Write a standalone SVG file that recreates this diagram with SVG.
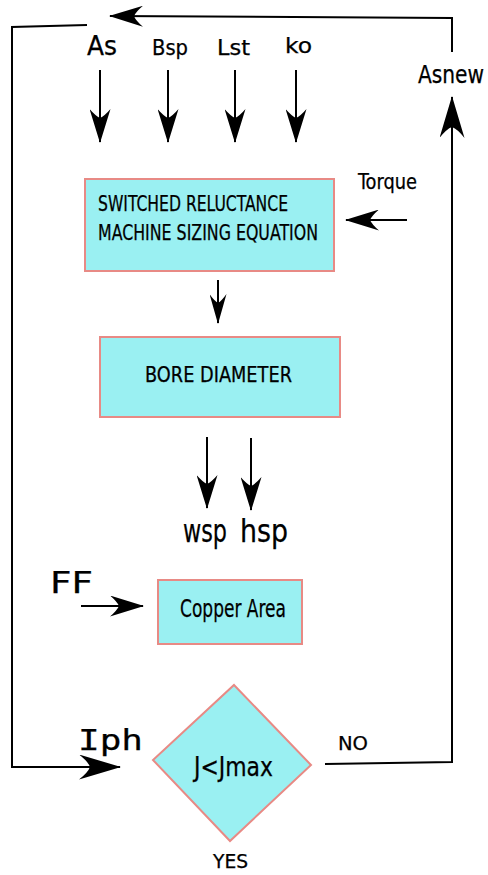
<svg xmlns="http://www.w3.org/2000/svg" width="488" height="875" viewBox="0 0 488 875">
<style>
.box{fill:#9af0f2;stroke:#e88a85;stroke-width:2}
.c{fill:none;stroke:#000;stroke-width:2}
.t{font-family:"DejaVu Sans Condensed","DejaVu Sans",sans-serif;fill:#000;stroke:#000;stroke-width:0.25}
.w{font-family:"DejaVu Sans",sans-serif;fill:#000;stroke:#000;stroke-width:0.25}
.m{font-family:"DejaVu Sans Mono",monospace;fill:#000;stroke:#000;stroke-width:0.25}
</style>
<defs>
<marker id="am" viewBox="0 0 34 21" markerWidth="34" markerHeight="21" refX="33" refY="10.5" orient="auto" markerUnits="userSpaceOnUse"><path d="M34,10.5 L0,0 Q7,6 9,10.5 Q7,15 0,21 Z" fill="#000"/></marker>
<marker id="al" viewBox="0 0 42 25" markerWidth="42" markerHeight="25" refX="41" refY="12.5" orient="auto" markerUnits="userSpaceOnUse"><path d="M42,12.5 L0,0 Q9,7 11,12.5 Q9,18 0,25 Z" fill="#000"/></marker>
<marker id="as" viewBox="0 0 30 17" markerWidth="30" markerHeight="17" refX="29" refY="8.5" orient="auto" markerUnits="userSpaceOnUse"><path d="M30,8.5 L0,0 Q7,5 9,8.5 Q7,12 0,17 Z" fill="#000"/></marker>
</defs>
<g id="connectors">
<polyline class="c" points="87,25 12,27 12,767 120,767" marker-end="url(#al)"/>
<polyline class="c" points="452,52 452,18 110,16" marker-end="url(#am)"/>
<polyline class="c" points="325,764 452,762 452,97" marker-end="url(#al)"/>
<line class="c" x1="100" y1="70" x2="100" y2="142" marker-end="url(#am)"/>
<line class="c" x1="168" y1="70" x2="168" y2="142" marker-end="url(#am)"/>
<line class="c" x1="235" y1="70" x2="235" y2="142" marker-end="url(#am)"/>
<line class="c" x1="296" y1="70" x2="296" y2="142" marker-end="url(#am)"/>
<line class="c" x1="407" y1="220" x2="346" y2="220" marker-end="url(#am)"/>
<line class="c" x1="218" y1="280" x2="218" y2="323" marker-end="url(#as)"/>
<line class="c" x1="207" y1="437" x2="207" y2="508" marker-end="url(#am)"/>
<line class="c" x1="251" y1="438" x2="251" y2="510" marker-end="url(#am)"/>
<line class="c" x1="81" y1="606" x2="143" y2="606" marker-end="url(#am)"/>
</g>
<g id="labels">
<text class="t" x="87" y="55" font-size="26" textLength="30" lengthAdjust="spacingAndGlyphs">As</text>
<text class="t" x="152" y="55" font-size="21" textLength="36" lengthAdjust="spacingAndGlyphs">Bsp</text>
<text class="t" x="217" y="55" font-size="21" textLength="33" lengthAdjust="spacingAndGlyphs">Lst</text>
<text class="t" x="285" y="53" font-size="22" textLength="27" lengthAdjust="spacingAndGlyphs">ko</text>
<text class="t" x="484" y="83" font-size="24" text-anchor="end" textLength="66" lengthAdjust="spacingAndGlyphs">Asnew</text>
<text class="t" x="358" y="189" font-size="21" textLength="59" lengthAdjust="spacingAndGlyphs">Torque</text>
<text class="t" x="183" y="542" font-size="32" textLength="44" lengthAdjust="spacingAndGlyphs">wsp</text>
<text class="t" x="240" y="542" font-size="32" textLength="48" lengthAdjust="spacingAndGlyphs">hsp</text>
<text class="w" x="50" y="593" font-size="31" textLength="43" lengthAdjust="spacingAndGlyphs">FF</text>
<text class="m" x="78" y="750" font-size="29" textLength="65" lengthAdjust="spacingAndGlyphs">Iph</text>
<text class="t" x="338" y="750" font-size="20" textLength="30" lengthAdjust="spacingAndGlyphs">NO</text>
<text class="t" x="213" y="868" font-size="20" textLength="35" lengthAdjust="spacingAndGlyphs">YES</text>
</g>
<g id="sizing">
<rect class="box" x="85" y="179" width="249" height="92"/>
<text class="t" x="98" y="211" font-size="22" textLength="190" lengthAdjust="spacingAndGlyphs">SWITCHED RELUCTANCE</text>
<text class="t" x="98" y="240" font-size="22" textLength="220" lengthAdjust="spacingAndGlyphs">MACHINE SIZING EQUATION</text>
</g>
<g id="bore">
<rect class="box" x="100" y="337" width="240" height="80"/>
<text class="t" x="145" y="382" font-size="21" textLength="147" lengthAdjust="spacingAndGlyphs">BORE DIAMETER</text>
</g>
<g id="copper">
<rect class="box" x="158" y="580" width="144" height="64"/>
<text class="t" x="180" y="617" font-size="25" textLength="106" lengthAdjust="spacingAndGlyphs">Copper Area</text>
</g>
<g id="check">
<polygon class="box" points="234,685 311,765 230,841 153,760"/>
<text class="t" x="194" y="776" font-size="26" textLength="79" lengthAdjust="spacingAndGlyphs">J&lt;Jmax</text>
</g>
</svg>
